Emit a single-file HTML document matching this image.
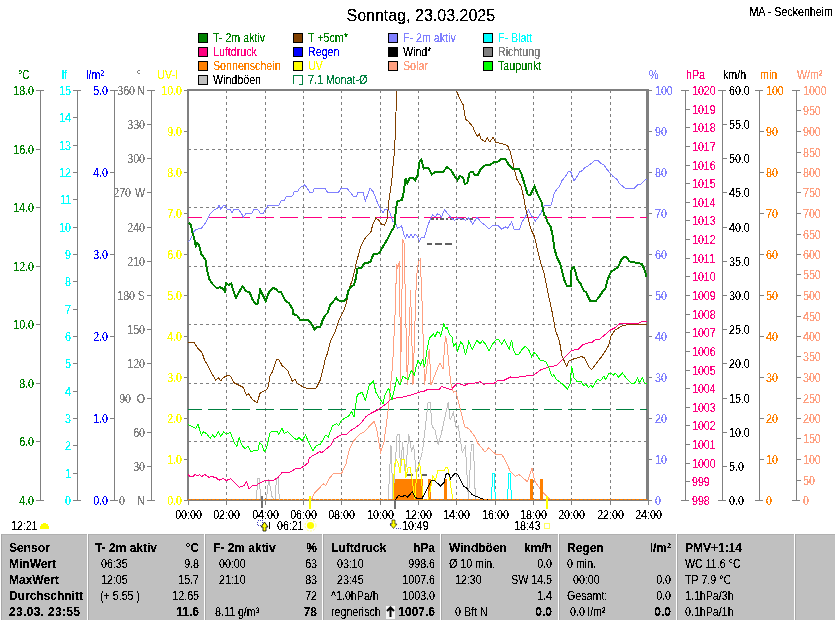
<!DOCTYPE html>
<html><head><meta charset="utf-8"><style>
html,body{margin:0;padding:0;background:#fff;width:835px;height:620px;overflow:hidden}
svg{display:block;font-family:'Liberation Sans',sans-serif}
</style></head><body>
<svg width="835" height="620" viewBox="0 0 835 620" shape-rendering="crispEdges">
<rect x="198.5" y="33.5" width="9" height="9" fill="#008000" stroke="#000" />
<rect x="293.5" y="33.5" width="9" height="9" fill="#804000" stroke="#000" />
<rect x="388.5" y="33.5" width="9" height="9" fill="#8080FF" stroke="#000" />
<rect x="483.5" y="33.5" width="9" height="9" fill="#00FFFF" stroke="#000" />
<rect x="198.5" y="47.5" width="9" height="9" fill="#FF0080" stroke="#000" />
<rect x="293.5" y="47.5" width="9" height="9" fill="#0000FF" stroke="#000" />
<rect x="388.5" y="47.5" width="9" height="9" fill="#000000" stroke="#000" />
<rect x="483.5" y="47.5" width="9" height="9" fill="#808080" stroke="#000" />
<rect x="198.5" y="61.5" width="9" height="9" fill="#FF8000" stroke="#000" />
<rect x="293.5" y="61.5" width="9" height="9" fill="#FFFF00" stroke="#000" />
<rect x="388.5" y="61.5" width="9" height="9" fill="#FFA080" stroke="#000" />
<rect x="483.5" y="61.5" width="9" height="9" fill="#00FF00" stroke="#000" />
<rect x="198.5" y="75.5" width="9" height="9" fill="#C0C0C0" stroke="#000" />
<path d="M293.5,84 V75.5 H302.5 V84.5 H299" fill="none" stroke="#008040"/>
<line x1="40.5" y1="90" x2="40.5" y2="501" stroke="#808080" stroke-width="1" />
<line x1="36" y1="90.5" x2="44" y2="90.5" stroke="#808080" stroke-width="1" />
<line x1="36" y1="149.5" x2="40.5" y2="149.5" stroke="#808080" stroke-width="1" />
<line x1="36" y1="207.5" x2="40.5" y2="207.5" stroke="#808080" stroke-width="1" />
<line x1="36" y1="266.5" x2="40.5" y2="266.5" stroke="#808080" stroke-width="1" />
<line x1="36" y1="324.5" x2="40.5" y2="324.5" stroke="#808080" stroke-width="1" />
<line x1="36" y1="383.5" x2="40.5" y2="383.5" stroke="#808080" stroke-width="1" />
<line x1="36" y1="441.5" x2="40.5" y2="441.5" stroke="#808080" stroke-width="1" />
<line x1="36" y1="500.5" x2="44" y2="500.5" stroke="#808080" stroke-width="1" />
<line x1="77.5" y1="90" x2="77.5" y2="501" stroke="#808080" stroke-width="1" />
<line x1="73" y1="90.5" x2="81" y2="90.5" stroke="#808080" stroke-width="1" />
<line x1="73" y1="117.5" x2="77.5" y2="117.5" stroke="#808080" stroke-width="1" />
<line x1="73" y1="145.5" x2="77.5" y2="145.5" stroke="#808080" stroke-width="1" />
<line x1="73" y1="172.5" x2="77.5" y2="172.5" stroke="#808080" stroke-width="1" />
<line x1="73" y1="199.5" x2="77.5" y2="199.5" stroke="#808080" stroke-width="1" />
<line x1="73" y1="227.5" x2="77.5" y2="227.5" stroke="#808080" stroke-width="1" />
<line x1="73" y1="254.5" x2="77.5" y2="254.5" stroke="#808080" stroke-width="1" />
<line x1="73" y1="281.5" x2="77.5" y2="281.5" stroke="#808080" stroke-width="1" />
<line x1="73" y1="309.5" x2="77.5" y2="309.5" stroke="#808080" stroke-width="1" />
<line x1="73" y1="336.5" x2="77.5" y2="336.5" stroke="#808080" stroke-width="1" />
<line x1="73" y1="363.5" x2="77.5" y2="363.5" stroke="#808080" stroke-width="1" />
<line x1="73" y1="391.5" x2="77.5" y2="391.5" stroke="#808080" stroke-width="1" />
<line x1="73" y1="418.5" x2="77.5" y2="418.5" stroke="#808080" stroke-width="1" />
<line x1="73" y1="445.5" x2="77.5" y2="445.5" stroke="#808080" stroke-width="1" />
<line x1="73" y1="473.5" x2="77.5" y2="473.5" stroke="#808080" stroke-width="1" />
<line x1="73" y1="500.5" x2="81" y2="500.5" stroke="#808080" stroke-width="1" />
<line x1="114.5" y1="90" x2="114.5" y2="501" stroke="#808080" stroke-width="1" />
<line x1="110" y1="90.5" x2="118" y2="90.5" stroke="#808080" stroke-width="1" />
<line x1="110" y1="172.5" x2="114.5" y2="172.5" stroke="#808080" stroke-width="1" />
<line x1="110" y1="254.5" x2="114.5" y2="254.5" stroke="#808080" stroke-width="1" />
<line x1="110" y1="336.5" x2="114.5" y2="336.5" stroke="#808080" stroke-width="1" />
<line x1="110" y1="418.5" x2="114.5" y2="418.5" stroke="#808080" stroke-width="1" />
<line x1="110" y1="500.5" x2="118" y2="500.5" stroke="#808080" stroke-width="1" />
<line x1="151.5" y1="90" x2="151.5" y2="501" stroke="#808080" stroke-width="1" />
<line x1="147" y1="90.5" x2="155" y2="90.5" stroke="#808080" stroke-width="1" />
<line x1="147" y1="124.5" x2="151.5" y2="124.5" stroke="#808080" stroke-width="1" />
<line x1="147" y1="158.5" x2="151.5" y2="158.5" stroke="#808080" stroke-width="1" />
<line x1="147" y1="192.5" x2="151.5" y2="192.5" stroke="#808080" stroke-width="1" />
<line x1="147" y1="227.5" x2="151.5" y2="227.5" stroke="#808080" stroke-width="1" />
<line x1="147" y1="261.5" x2="151.5" y2="261.5" stroke="#808080" stroke-width="1" />
<line x1="147" y1="295.5" x2="151.5" y2="295.5" stroke="#808080" stroke-width="1" />
<line x1="147" y1="329.5" x2="151.5" y2="329.5" stroke="#808080" stroke-width="1" />
<line x1="147" y1="363.5" x2="151.5" y2="363.5" stroke="#808080" stroke-width="1" />
<line x1="147" y1="398.5" x2="151.5" y2="398.5" stroke="#808080" stroke-width="1" />
<line x1="147" y1="432.5" x2="151.5" y2="432.5" stroke="#808080" stroke-width="1" />
<line x1="147" y1="466.5" x2="151.5" y2="466.5" stroke="#808080" stroke-width="1" />
<line x1="147" y1="500.5" x2="155" y2="500.5" stroke="#808080" stroke-width="1" />
<line x1="184" y1="90.5" x2="188" y2="90.5" stroke="#808080" stroke-width="1" />
<line x1="184" y1="131.5" x2="188" y2="131.5" stroke="#808080" stroke-width="1" />
<line x1="184" y1="172.5" x2="188" y2="172.5" stroke="#808080" stroke-width="1" />
<line x1="184" y1="213.5" x2="188" y2="213.5" stroke="#808080" stroke-width="1" />
<line x1="184" y1="254.5" x2="188" y2="254.5" stroke="#808080" stroke-width="1" />
<line x1="184" y1="295.5" x2="188" y2="295.5" stroke="#808080" stroke-width="1" />
<line x1="184" y1="336.5" x2="188" y2="336.5" stroke="#808080" stroke-width="1" />
<line x1="184" y1="377.5" x2="188" y2="377.5" stroke="#808080" stroke-width="1" />
<line x1="184" y1="418.5" x2="188" y2="418.5" stroke="#808080" stroke-width="1" />
<line x1="184" y1="459.5" x2="188" y2="459.5" stroke="#808080" stroke-width="1" />
<line x1="184" y1="500.5" x2="188" y2="500.5" stroke="#808080" stroke-width="1" />
<line x1="648" y1="90.5" x2="652" y2="90.5" stroke="#808080" stroke-width="1" />
<line x1="648" y1="131.5" x2="652" y2="131.5" stroke="#808080" stroke-width="1" />
<line x1="648" y1="172.5" x2="652" y2="172.5" stroke="#808080" stroke-width="1" />
<line x1="648" y1="213.5" x2="652" y2="213.5" stroke="#808080" stroke-width="1" />
<line x1="648" y1="254.5" x2="652" y2="254.5" stroke="#808080" stroke-width="1" />
<line x1="648" y1="295.5" x2="652" y2="295.5" stroke="#808080" stroke-width="1" />
<line x1="648" y1="336.5" x2="652" y2="336.5" stroke="#808080" stroke-width="1" />
<line x1="648" y1="377.5" x2="652" y2="377.5" stroke="#808080" stroke-width="1" />
<line x1="648" y1="418.5" x2="652" y2="418.5" stroke="#808080" stroke-width="1" />
<line x1="648" y1="459.5" x2="652" y2="459.5" stroke="#808080" stroke-width="1" />
<line x1="648" y1="500.5" x2="652" y2="500.5" stroke="#808080" stroke-width="1" />
<line x1="685.5" y1="90" x2="685.5" y2="501" stroke="#808080" stroke-width="1" />
<line x1="681" y1="90.5" x2="689" y2="90.5" stroke="#808080" stroke-width="1" />
<line x1="685.5" y1="109.5" x2="690" y2="109.5" stroke="#808080" stroke-width="1" />
<line x1="685.5" y1="127.5" x2="690" y2="127.5" stroke="#808080" stroke-width="1" />
<line x1="685.5" y1="146.5" x2="690" y2="146.5" stroke="#808080" stroke-width="1" />
<line x1="685.5" y1="165.5" x2="690" y2="165.5" stroke="#808080" stroke-width="1" />
<line x1="685.5" y1="183.5" x2="690" y2="183.5" stroke="#808080" stroke-width="1" />
<line x1="685.5" y1="202.5" x2="690" y2="202.5" stroke="#808080" stroke-width="1" />
<line x1="685.5" y1="220.5" x2="690" y2="220.5" stroke="#808080" stroke-width="1" />
<line x1="685.5" y1="239.5" x2="690" y2="239.5" stroke="#808080" stroke-width="1" />
<line x1="685.5" y1="258.5" x2="690" y2="258.5" stroke="#808080" stroke-width="1" />
<line x1="685.5" y1="276.5" x2="690" y2="276.5" stroke="#808080" stroke-width="1" />
<line x1="685.5" y1="295.5" x2="690" y2="295.5" stroke="#808080" stroke-width="1" />
<line x1="685.5" y1="314.5" x2="690" y2="314.5" stroke="#808080" stroke-width="1" />
<line x1="685.5" y1="332.5" x2="690" y2="332.5" stroke="#808080" stroke-width="1" />
<line x1="685.5" y1="351.5" x2="690" y2="351.5" stroke="#808080" stroke-width="1" />
<line x1="685.5" y1="370.5" x2="690" y2="370.5" stroke="#808080" stroke-width="1" />
<line x1="685.5" y1="388.5" x2="690" y2="388.5" stroke="#808080" stroke-width="1" />
<line x1="685.5" y1="407.5" x2="690" y2="407.5" stroke="#808080" stroke-width="1" />
<line x1="685.5" y1="425.5" x2="690" y2="425.5" stroke="#808080" stroke-width="1" />
<line x1="685.5" y1="444.5" x2="690" y2="444.5" stroke="#808080" stroke-width="1" />
<line x1="685.5" y1="463.5" x2="690" y2="463.5" stroke="#808080" stroke-width="1" />
<line x1="685.5" y1="481.5" x2="690" y2="481.5" stroke="#808080" stroke-width="1" />
<line x1="681" y1="500.5" x2="689" y2="500.5" stroke="#808080" stroke-width="1" />
<line x1="722.5" y1="90" x2="722.5" y2="501" stroke="#808080" stroke-width="1" />
<line x1="718" y1="90.5" x2="726" y2="90.5" stroke="#808080" stroke-width="1" />
<line x1="722.5" y1="124.5" x2="727" y2="124.5" stroke="#808080" stroke-width="1" />
<line x1="722.5" y1="158.5" x2="727" y2="158.5" stroke="#808080" stroke-width="1" />
<line x1="722.5" y1="192.5" x2="727" y2="192.5" stroke="#808080" stroke-width="1" />
<line x1="722.5" y1="227.5" x2="727" y2="227.5" stroke="#808080" stroke-width="1" />
<line x1="722.5" y1="261.5" x2="727" y2="261.5" stroke="#808080" stroke-width="1" />
<line x1="722.5" y1="295.5" x2="727" y2="295.5" stroke="#808080" stroke-width="1" />
<line x1="722.5" y1="329.5" x2="727" y2="329.5" stroke="#808080" stroke-width="1" />
<line x1="722.5" y1="363.5" x2="727" y2="363.5" stroke="#808080" stroke-width="1" />
<line x1="722.5" y1="398.5" x2="727" y2="398.5" stroke="#808080" stroke-width="1" />
<line x1="722.5" y1="432.5" x2="727" y2="432.5" stroke="#808080" stroke-width="1" />
<line x1="722.5" y1="466.5" x2="727" y2="466.5" stroke="#808080" stroke-width="1" />
<line x1="718" y1="500.5" x2="726" y2="500.5" stroke="#808080" stroke-width="1" />
<line x1="759.5" y1="90" x2="759.5" y2="501" stroke="#808080" stroke-width="1" />
<line x1="755" y1="90.5" x2="763" y2="90.5" stroke="#808080" stroke-width="1" />
<line x1="759.5" y1="131.5" x2="764" y2="131.5" stroke="#808080" stroke-width="1" />
<line x1="759.5" y1="172.5" x2="764" y2="172.5" stroke="#808080" stroke-width="1" />
<line x1="759.5" y1="213.5" x2="764" y2="213.5" stroke="#808080" stroke-width="1" />
<line x1="759.5" y1="254.5" x2="764" y2="254.5" stroke="#808080" stroke-width="1" />
<line x1="759.5" y1="295.5" x2="764" y2="295.5" stroke="#808080" stroke-width="1" />
<line x1="759.5" y1="336.5" x2="764" y2="336.5" stroke="#808080" stroke-width="1" />
<line x1="759.5" y1="377.5" x2="764" y2="377.5" stroke="#808080" stroke-width="1" />
<line x1="759.5" y1="418.5" x2="764" y2="418.5" stroke="#808080" stroke-width="1" />
<line x1="759.5" y1="459.5" x2="764" y2="459.5" stroke="#808080" stroke-width="1" />
<line x1="755" y1="500.5" x2="763" y2="500.5" stroke="#808080" stroke-width="1" />
<line x1="796.5" y1="90" x2="796.5" y2="501" stroke="#808080" stroke-width="1" />
<line x1="792" y1="90.5" x2="800" y2="90.5" stroke="#808080" stroke-width="1" />
<line x1="796.5" y1="110.5" x2="801" y2="110.5" stroke="#808080" stroke-width="1" />
<line x1="796.5" y1="131.5" x2="801" y2="131.5" stroke="#808080" stroke-width="1" />
<line x1="796.5" y1="152.5" x2="801" y2="152.5" stroke="#808080" stroke-width="1" />
<line x1="796.5" y1="172.5" x2="801" y2="172.5" stroke="#808080" stroke-width="1" />
<line x1="796.5" y1="192.5" x2="801" y2="192.5" stroke="#808080" stroke-width="1" />
<line x1="796.5" y1="213.5" x2="801" y2="213.5" stroke="#808080" stroke-width="1" />
<line x1="796.5" y1="234.5" x2="801" y2="234.5" stroke="#808080" stroke-width="1" />
<line x1="796.5" y1="254.5" x2="801" y2="254.5" stroke="#808080" stroke-width="1" />
<line x1="796.5" y1="274.5" x2="801" y2="274.5" stroke="#808080" stroke-width="1" />
<line x1="796.5" y1="295.5" x2="801" y2="295.5" stroke="#808080" stroke-width="1" />
<line x1="796.5" y1="316.5" x2="801" y2="316.5" stroke="#808080" stroke-width="1" />
<line x1="796.5" y1="336.5" x2="801" y2="336.5" stroke="#808080" stroke-width="1" />
<line x1="796.5" y1="356.5" x2="801" y2="356.5" stroke="#808080" stroke-width="1" />
<line x1="796.5" y1="377.5" x2="801" y2="377.5" stroke="#808080" stroke-width="1" />
<line x1="796.5" y1="398.5" x2="801" y2="398.5" stroke="#808080" stroke-width="1" />
<line x1="796.5" y1="418.5" x2="801" y2="418.5" stroke="#808080" stroke-width="1" />
<line x1="796.5" y1="438.5" x2="801" y2="438.5" stroke="#808080" stroke-width="1" />
<line x1="796.5" y1="459.5" x2="801" y2="459.5" stroke="#808080" stroke-width="1" />
<line x1="796.5" y1="480.5" x2="801" y2="480.5" stroke="#808080" stroke-width="1" />
<line x1="792" y1="500.5" x2="800" y2="500.5" stroke="#808080" stroke-width="1" />
<line x1="188" y1="149.5" x2="647" y2="149.5" stroke="#808080" stroke-width="1" stroke-dasharray="3 3"/>
<line x1="188" y1="207.5" x2="647" y2="207.5" stroke="#808080" stroke-width="1" stroke-dasharray="3 3"/>
<line x1="188" y1="266.5" x2="647" y2="266.5" stroke="#808080" stroke-width="1" stroke-dasharray="3 3"/>
<line x1="188" y1="324.5" x2="647" y2="324.5" stroke="#808080" stroke-width="1" stroke-dasharray="3 3"/>
<line x1="188" y1="383.5" x2="647" y2="383.5" stroke="#808080" stroke-width="1" stroke-dasharray="3 3"/>
<line x1="188" y1="441.5" x2="647" y2="441.5" stroke="#808080" stroke-width="1" stroke-dasharray="3 3"/>
<line x1="226.5" y1="90" x2="226.5" y2="499" stroke="#808080" stroke-width="1" stroke-dasharray="3 3"/>
<line x1="265.5" y1="90" x2="265.5" y2="499" stroke="#808080" stroke-width="1" stroke-dasharray="3 3"/>
<line x1="303.5" y1="90" x2="303.5" y2="499" stroke="#808080" stroke-width="1" stroke-dasharray="3 3"/>
<line x1="341.5" y1="90" x2="341.5" y2="499" stroke="#808080" stroke-width="1" stroke-dasharray="3 3"/>
<line x1="380.5" y1="90" x2="380.5" y2="499" stroke="#808080" stroke-width="1" stroke-dasharray="3 3"/>
<line x1="418.5" y1="90" x2="418.5" y2="499" stroke="#808080" stroke-width="1" stroke-dasharray="3 3"/>
<line x1="456.5" y1="90" x2="456.5" y2="499" stroke="#808080" stroke-width="1" stroke-dasharray="3 3"/>
<line x1="495.5" y1="90" x2="495.5" y2="499" stroke="#808080" stroke-width="1" stroke-dasharray="3 3"/>
<line x1="533.5" y1="90" x2="533.5" y2="499" stroke="#808080" stroke-width="1" stroke-dasharray="3 3"/>
<line x1="571.5" y1="90" x2="571.5" y2="499" stroke="#808080" stroke-width="1" stroke-dasharray="3 3"/>
<line x1="610.5" y1="90" x2="610.5" y2="499" stroke="#808080" stroke-width="1" stroke-dasharray="3 3"/>
<line x1="188.5" y1="500" x2="188.5" y2="505" stroke="#808080" stroke-width="1" />
<line x1="226.5" y1="500" x2="226.5" y2="505" stroke="#808080" stroke-width="1" />
<line x1="265.5" y1="500" x2="265.5" y2="505" stroke="#808080" stroke-width="1" />
<line x1="303.5" y1="500" x2="303.5" y2="505" stroke="#808080" stroke-width="1" />
<line x1="341.5" y1="500" x2="341.5" y2="505" stroke="#808080" stroke-width="1" />
<line x1="380.5" y1="500" x2="380.5" y2="505" stroke="#808080" stroke-width="1" />
<line x1="418.5" y1="500" x2="418.5" y2="505" stroke="#808080" stroke-width="1" />
<line x1="456.5" y1="500" x2="456.5" y2="505" stroke="#808080" stroke-width="1" />
<line x1="495.5" y1="500" x2="495.5" y2="505" stroke="#808080" stroke-width="1" />
<line x1="533.5" y1="500" x2="533.5" y2="505" stroke="#808080" stroke-width="1" />
<line x1="571.5" y1="500" x2="571.5" y2="505" stroke="#808080" stroke-width="1" />
<line x1="610.5" y1="500" x2="610.5" y2="505" stroke="#808080" stroke-width="1" />
<line x1="648.5" y1="500" x2="648.5" y2="505" stroke="#808080" stroke-width="1" />
<rect x="188" y="90" width="460" height="410" fill="none" stroke="#808080" stroke-width="2"/>
<rect x="646" y="90" width="1" height="410" fill="#808080" stroke="none" />
<defs><clipPath id="pc"><rect x="188" y="91" width="459" height="409"/></clipPath></defs>
<g clip-path="url(#pc)">
<line x1="188" y1="217.5" x2="647" y2="217.5" stroke="#FF0080" stroke-dasharray="18 6" stroke-dashoffset="4"/>
<line x1="188" y1="409.5" x2="647" y2="409.5" stroke="#008040" stroke-dasharray="18 6" stroke-dashoffset="4"/>
<polyline points="311.5,499.5 314.4,493.2 319.4,488.1 323.0,483.8 325.9,485.3 329.5,478.1 333.8,473.1 341.7,473.1 346.0,463.7 349.6,448.6 353.2,441.4 359.7,434.2 364.5,431.7 371.0,424.5 374.2,421.3 376.6,428.5 380.6,451.9 383.9,443.0 387.9,412.4 392.7,364.0 395.7,300.0 396.4,263.7 397.7,267.6 399.6,261.1 400.5,385.0 402.8,239.2 404.1,243.0 407.3,385.0 410.6,290.2 413.0,385.0 416.4,277.9 418.3,262.4 420.3,259.2 422.2,305.0 424.5,385.0 429.3,349.4 431.0,385.0 437.4,368.8 439.8,363.1 443.0,368.8 445.5,335.7 447.1,344.6 449.5,372.0 451.1,385.0 453.5,392.2 455.9,391.4 460.8,410.8 464.8,426.9 468.8,428.5 475.3,437.4 477.7,443.0 485.0,451.9 488.7,447.9 495.9,454.4 501.7,454.4 506.0,461.6 510.3,471.6 515.3,476.6 518.9,474.5 523.2,478.1 527.5,481.7 531.9,468.0 534.6,481.0 541.2,490.4 549.9,499.5" fill="none" stroke="#FFA080" stroke-width="1" stroke-linejoin="miter" />
<rect x="393" y="479" width="30" height="21" fill="#FF8000"/>
<rect x="428.4" y="479" width="2.6000000000000227" height="21" fill="#FF8000"/>
<rect x="444.2" y="479" width="2.8000000000000114" height="21" fill="#FF8000"/>
<rect x="530.2" y="479" width="3.0" height="21" fill="#FF8000"/>
<rect x="540" y="479" width="2.7999999999999545" height="21" fill="#FF8000"/>
<polyline points="256.4,499.5 257.8,478.0 259.5,478.0 260.5,499.5 266.5,499.5 268.6,478.8 272.2,497.5 275.0,499.5 276.5,478.0 278.0,478.0 279.4,499.5 388.2,499.5 391.0,445.3 393.0,499.5 397.1,434.4 399.2,434.4 400.5,472.0 402.6,441.9 405.3,474.8 408.8,434.4 411.5,451.5 413.6,444.7 416.3,474.8 419.7,461.1 422.5,451.5 425.2,428.2 428.1,402.2 430.1,402.2 432.1,426.4 435.1,430.4 438.1,444.5 441.2,434.4 444.2,420.3 448.2,402.2 450.2,420.3 453.3,412.3 456.3,428.4 458.3,426.4 462.3,452.6 465.4,446.5 468.4,499.0 471.4,444.5 473.4,444.5 475.4,499.0" fill="none" stroke="#C0C0C0" stroke-width="1" stroke-linejoin="miter" />
<line x1="430" y1="219" x2="473" y2="219" stroke="#606060" stroke-width="2" stroke-dasharray="4 2 2 2"/>
<line x1="427" y1="244" x2="453" y2="244" stroke="#606060" stroke-width="2" stroke-dasharray="5 3 2 0"/>
<line x1="407" y1="475" x2="413" y2="475" stroke="#606060" stroke-width="2"/>
<line x1="422" y1="475" x2="427" y2="475" stroke="#606060" stroke-width="2"/>
<polyline points="393.0,499.5 394.4,465.2 396.4,459.7 398.5,463.8 399.9,473.4 401.9,459.7 404.7,459.7 406.0,477.5 408.1,467.3 410.1,467.3 412.2,480.3 414.9,499.5 417.0,469.3 419.7,463.8 421.8,480.3 422.5,499.5 428.6,499.5 432.7,476.2 435.6,480.2 437.7,470.9 444.2,470.9 445.6,467.3 447.8,467.3 452.8,498.9" fill="none" stroke="#FFFF00" stroke-width="1" stroke-linejoin="miter" />
<polyline points="393.0,499.5 395.8,499.5 398.5,495.3 401.9,496.7 405.3,495.3 407.4,497.4 412.2,491.9 414.9,496.7 417.7,498.8 421.8,498.8 425.2,492.6 428.6,485.8 431.4,480.3 434.1,480.3 440.6,486.0 444.2,482.4 445.6,474.5 448.5,473.1 450.6,478.8 455.0,473.1 457.8,474.5 463.6,486.0 466.5,488.1 472.2,494.6 477.2,496.8 482.3,498.9 488.0,499.6" fill="none" stroke="#000000" stroke-width="1" stroke-linejoin="miter" />
<polyline points="491.4,499.5 492.7,473.0 494.1,473.0 495.4,499.5" fill="none" stroke="#00FFFF" stroke-width="1" stroke-linejoin="miter" />
<polyline points="507.5,499.5 508.8,473.0 510.2,473.0 511.5,499.5" fill="none" stroke="#00FFFF" stroke-width="1" stroke-linejoin="miter" />
<polyline points="188.2,474.5 190.3,476.6 193.2,476.2 195.3,474.5 197.5,475.6 199.7,474.5 201.8,476.6 204.7,474.5 209.0,477.4 211.9,476.6 216.2,477.7 219.0,480.2 223.4,478.5 226.2,480.5 230.6,478.8 233.4,481.4 236.3,484.6 239.2,487.1 242.0,486.7 244.2,485.3 246.4,481.7 249.2,488.9 252.1,486.0 256.4,485.3 260.7,482.4 264.3,481.0 267.9,480.2 270.8,481.0 273.7,480.2 278.0,477.4 282.3,472.3 289.5,472.3 293.1,470.2 295.2,468.7 301.0,468.0 304.3,465.9 307.9,463.0 309.3,458.0 313.7,455.1 319.4,451.9 322.3,452.2 325.9,449.3 330.9,445.0 333.9,439.0 341.1,435.0 346.8,434.2 350.0,430.9 356.5,426.9 360.5,423.7 366.1,416.4 372.6,412.4 379.0,409.2 385.5,404.3 390.3,399.5 396.8,397.9 403.2,397.0 412.9,394.6 418.8,392.2 423.7,391.4 428.5,389.0 435.0,389.0 439.0,389.8 441.4,386.6 446.3,388.2 451.1,389.8 456.7,383.4 461.6,384.2 464.0,385.8 468.8,383.4 475.3,383.0 480.1,381.7 483.4,384.2 494.6,383.0 497.9,380.1 502.7,380.9 507.5,378.5 510.8,376.9 514.0,377.7 525.3,376.1 528.5,375.3 533.6,375.3 540.9,369.6 545.8,368.0 551.4,366.4 556.2,365.6 562.7,359.1 567.5,354.3 571.6,350.3 578.0,349.5 582.9,344.6 587.7,343.0 592.5,342.2 595.8,339.0 599.0,339.8 603.8,335.7 610.3,330.1 615.1,327.7 620.0,323.6 637.7,323.6 642.6,321.2 646.5,321.2" fill="none" stroke="#FF0080" stroke-width="1" stroke-linejoin="miter" />
<polyline points="188.4,242.0 190.8,238.9 193.3,232.4 196.5,229.2 201.3,228.4 203.7,225.2 206.2,221.9 208.6,217.0 210.2,213.9 214.2,209.8 217.5,208.2 219.0,205.5 220.7,209.0 223.9,205.0 225.5,205.5 227.0,209.0 230.4,209.8 232.0,213.0 233.6,209.5 238.4,209.5 240.8,212.3 243.3,217.0 245.7,213.9 252.0,213.0 253.7,209.5 257.8,209.5 260.2,213.0 263.4,213.0 267.5,205.8 278.7,205.5 281.2,201.0 284.4,200.2 286.0,197.0 292.5,196.0 294.0,192.0 298.0,191.3 299.7,188.0 304.8,184.8 306.5,187.3 309.7,192.1 312.9,192.1 314.5,188.1 325.0,188.1 327.4,192.1 338.7,192.1 341.1,188.1 346.8,188.1 350.0,192.1 354.0,196.9 356.5,196.9 358.1,192.1 362.9,192.1 365.3,201.0 370.2,188.1 373.4,192.1 377.4,202.6 380.6,209.0 383.1,213.1 384.7,209.8 387.9,209.0 390.3,213.9 392.7,221.1 395.2,221.9 397.6,228.4 401.6,226.0 404.0,234.8 405.5,238.0 407.0,234.0 409.0,238.0 411.0,234.0 413.0,238.0 415.0,234.0 417.2,236.0 419.6,241.3 421.3,237.3 424.5,237.3 426.9,228.4 430.1,219.5 432.5,214.7 435.0,217.1 437.4,213.9 439.8,214.7 441.4,217.1 444.6,209.8 447.9,213.9 451.1,217.9 454.3,220.3 457.5,217.9 460.8,218.7 465.6,220.3 468.8,217.9 472.9,224.4 476.9,217.1 481.7,222.7 485.0,225.2 489.0,229.2 493.0,225.2 497.9,225.2 501.9,229.2 505.1,226.8 507.5,228.4 511.6,221.9 514.0,229.2 519.6,229.2 522.1,221.9 525.3,217.1 528.5,209.8 531.2,215.5 535.3,221.1 537.7,217.9 540.9,213.1 544.1,205.8 551.4,205.0 553.8,194.5 557.0,188.9 559.5,186.5 561.9,180.8 565.1,176.8 568.3,171.9 570.8,171.9 574.0,180.8 576.4,177.6 579.6,171.9 582.9,170.3 584.5,167.9 588.5,165.5 590.9,163.8 594.2,160.6 598.2,160.6 601.4,163.8 603.8,164.7 607.1,169.5 610.3,173.5 613.5,176.8 616.8,179.2 619.2,183.2 624.8,188.1 634.5,188.1 637.7,184.8 641.0,184.0 645.0,180.0 647.0,179.0" fill="none" stroke="#8080FF" stroke-width="1" stroke-linejoin="miter" />
<polyline points="188.4,424.5 190.8,426.1 195.7,428.5 198.1,424.5 201.3,435.0 203.7,431.7 207.0,434.2 210.2,438.2 212.6,435.0 215.0,437.4 218.3,431.7 220.7,436.6 223.9,431.7 226.3,434.2 230.4,432.5 234.4,443.0 236.8,446.3 239.2,437.4 241.6,444.6 244.9,448.7 248.1,446.3 251.3,451.9 254.5,450.3 257.8,451.0 259.4,443.0 261.8,444.6 264.2,451.9 266.6,447.9 269.9,433.4 272.3,431.0 277.1,431.0 278.7,434.2 282.0,428.5 284.4,433.4 287.6,431.7 292.5,436.6 296.5,439.8 298.9,437.4 302.1,440.6 305.6,435.0 308.9,443.0 312.9,451.1 316.1,445.5 320.2,444.6 325.8,435.0 328.2,437.4 332.3,426.1 336.3,423.7 338.7,425.3 341.1,420.5 345.2,418.0 348.4,416.4 351.6,411.6 354.0,417.2 357.3,394.6 362.1,392.2 365.3,400.3 369.4,385.0 373.4,380.9 375.8,392.2 379.0,397.9 383.1,403.5 384.7,395.5 388.7,388.2 391.9,400.3 396.8,378.5 400.0,385.0 403.2,376.1 408.1,380.1 411.3,370.5 414.5,375.3 415.6,368.8 418.0,359.9 420.5,364.7 422.9,359.1 424.5,367.2 426.9,351.0 429.3,338.1 433.4,334.1 435.0,336.5 437.4,331.7 439.8,332.5 440.6,336.5 443.8,323.6 445.5,328.5 447.1,327.6 449.5,334.9 451.9,336.5 453.5,346.2 455.9,343.8 457.5,351.0 460.8,341.4 463.2,345.4 465.6,355.1 468.8,341.4 472.1,349.4 476.9,340.5 480.1,343.8 482.5,340.5 485.8,344.6 489.0,351.0 492.2,344.6 496.3,339.7 498.7,339.7 501.9,344.6 504.3,339.7 506.7,344.6 509.2,349.4 511.6,339.7 513.2,349.4 515.6,354.3 518.8,354.3 522.1,349.4 525.3,346.2 528.5,349.4 531.7,356.7 534.0,352.6 536.1,354.3 540.1,360.0 545.8,361.6 549.0,368.0 552.2,376.9 553.8,374.5 556.2,379.3 561.9,383.4 567.5,389.0 570.0,384.2 571.6,366.4 574.0,377.7 577.2,381.7 581.3,381.7 583.7,385.8 586.1,384.2 588.5,387.4 590.9,385.0 592.5,387.4 597.4,379.3 600.6,380.9 603.8,376.1 605.5,379.3 608.7,373.7 611.1,372.9 613.5,375.3 615.1,372.9 618.4,376.9 622.4,372.9 627.2,379.3 631.3,383.4 634.5,383.4 637.7,377.7 639.3,382.6 642.6,377.7 644.2,382.6 646.6,383.4" fill="none" stroke="#00FF00" stroke-width="1" stroke-linejoin="miter" />
<polyline points="188.4,342.2 194.0,342.2 198.0,348.6 202.0,352.6 204.5,359.9 207.0,364.0 211.8,373.7 215.8,380.1 218.3,377.7 220.7,380.9 223.1,377.7 228.0,375.3 230.4,376.1 233.6,382.5 238.4,385.0 243.3,387.4 246.5,395.5 248.9,393.8 252.1,399.5 257.0,402.7 260.2,393.0 262.6,391.4 265.8,390.6 268.3,386.6 269.9,376.1 272.3,372.0 276.3,359.9 278.7,359.1 282.0,365.5 287.6,370.4 292.5,381.7 294.9,379.3 297.3,383.4 303.7,387.4 306.5,388.2 316.1,388.2 320.2,380.1 324.2,364.0 325.0,359.9 327.4,353.5 330.6,340.5 335.5,330.9 338.7,320.4 341.1,315.5 344.4,309.1 346.8,301.0 349.2,288.1 352.4,280.1 356.5,262.3 360.5,246.9 365.3,238.0 371.0,231.6 372.6,225.2 375.8,217.9 379.0,220.3 381.5,224.4 384.7,225.2 387.1,218.7 388.4,205.8 389.5,196.1 391.9,180.0 392.7,168.6 394.4,152.5 395.2,136.4 396.0,112.2 396.8,89.6 397.2,60.0 456.0,60.0 456.3,90.0 459.2,97.7 463.2,104.9 465.6,119.5 468.0,121.1 472.9,126.7 474.5,131.5 477.7,136.4 479.3,134.0 480.9,138.8 485.0,142.0 487.4,138.0 489.8,142.0 493.0,137.2 495.5,142.0 501.1,143.6 507.5,145.3 510.0,150.9 513.2,163.8 515.6,175.1 517.2,180.0 521.3,186.5 523.7,197.7 525.3,206.6 528.5,220.3 531.2,230.0 534.5,236.5 537.7,251.0 540.9,263.9 544.1,273.6 545.8,281.7 549.0,297.8 552.2,312.3 555.4,330.1 559.5,341.4 561.9,355.9 566.7,366.4 569.1,360.8 573.2,359.1 581.3,356.7 584.5,357.5 588.5,366.4 591.7,369.6 595.8,364.0 602.2,355.9 608.7,345.4 611.1,335.7 615.1,330.1 621.6,326.1 628.9,324.4 646.6,324.4" fill="none" stroke="#804000" stroke-width="1" stroke-linejoin="miter" />
<polyline points="188.4,222.7 190.8,225.0 192.5,233.0 194.0,237.0 195.7,246.0 197.3,243.0 198.9,244.5 201.3,254.0 203.7,257.4 205.4,259.0 207.0,270.3 209.4,279.3 212.6,284.1 216.6,288.1 219.9,287.3 222.3,288.1 224.7,291.4 226.0,283.3 228.7,284.9 231.2,283.3 233.6,291.4 236.0,297.8 238.4,293.0 242.5,286.5 246.5,291.4 249.7,292.2 252.1,298.6 255.4,304.0 257.8,303.5 260.2,289.7 262.6,294.6 265.8,301.0 269.0,292.2 273.1,288.1 276.3,289.0 277.9,291.4 281.2,292.2 285.2,300.2 289.2,303.5 292.5,309.1 293.3,314.0 297.3,315.5 300.5,320.4 302.4,320.4 308.9,320.4 311.3,323.6 314.5,329.3 316.9,326.8 320.2,326.8 322.6,320.4 325.0,315.5 327.4,313.1 329.0,308.3 330.6,304.3 333.9,300.7 336.3,297.8 337.9,300.2 340.3,301.0 344.4,301.0 346.8,297.8 348.4,290.5 351.6,286.5 354.0,284.9 355.6,279.3 357.3,268.7 361.3,267.9 364.5,263.0 370.2,262.3 373.4,254.2 379.0,253.4 382.3,247.7 387.1,239.7 391.1,231.6 394.4,226.8 396.0,209.0 397.6,201.0 401.6,200.2 403.2,195.3 404.0,189.7 405.6,178.3 407.3,183.2 409.7,178.3 412.9,177.5 415.3,180.0 417.7,175.1 419.6,161.4 421.3,159.8 423.7,168.6 428.5,167.8 431.7,174.3 435.8,171.9 443.0,171.9 447.1,167.0 451.1,170.3 454.3,175.9 457.5,179.9 460.0,175.9 463.2,177.5 464.8,184.0 467.2,183.2 469.6,172.7 472.9,171.9 474.5,175.1 477.7,175.1 480.1,170.3 483.4,166.2 487.4,164.6 490.6,164.6 493.8,162.2 497.0,162.2 501.1,159.0 505.1,159.0 509.2,165.4 512.4,168.6 518.8,168.6 521.3,173.5 525.3,186.4 527.7,194.5 530.1,195.3 534.5,186.5 537.7,194.5 541.7,202.6 544.1,214.7 545.8,216.3 547.4,222.0 550.6,226.8 552.2,233.3 554.6,249.4 557.0,257.5 560.3,263.9 564.3,280.0 566.7,285.7 570.8,285.7 571.6,268.0 574.0,267.1 575.6,272.0 577.2,279.3 580.4,283.3 583.7,290.6 586.1,292.2 590.1,301.0 595.8,301.0 599.0,297.0 602.2,292.2 605.5,288.1 607.9,278.5 611.1,272.0 615.1,268.8 617.6,268.0 621.6,259.1 624.0,256.6 626.4,257.5 629.7,261.5 637.7,263.1 641.8,263.9 643.4,267.1 645.8,273.6 646.6,276.8" fill="none" stroke="#008000" stroke-width="2" stroke-linejoin="miter" />
<line x1="188" y1="499.5" x2="476" y2="499.5" stroke="#FF8000" stroke-dasharray="3 1"/>
<line x1="476" y1="499.5" x2="647" y2="499.5" stroke="#FF8000" stroke-width="2" stroke-dasharray="3 1"/>
</g>
<rect x="1" y="534" width="86" height="86" fill="#C0C0C0" stroke="none" />
<rect x="1" y="534" width="86" height="1" fill="#B0B0B0" stroke="none" />
<rect x="1" y="534" width="1" height="86" fill="#A8A8A8" stroke="none" />
<rect x="88" y="534" width="116" height="86" fill="#C0C0C0" stroke="none" />
<rect x="88" y="534" width="116" height="1" fill="#B0B0B0" stroke="none" />
<rect x="88" y="534" width="1" height="86" fill="#A8A8A8" stroke="none" />
<rect x="205" y="534" width="117" height="86" fill="#C0C0C0" stroke="none" />
<rect x="205" y="534" width="117" height="1" fill="#B0B0B0" stroke="none" />
<rect x="205" y="534" width="1" height="86" fill="#A8A8A8" stroke="none" />
<rect x="323" y="534" width="117" height="86" fill="#C0C0C0" stroke="none" />
<rect x="323" y="534" width="117" height="1" fill="#B0B0B0" stroke="none" />
<rect x="323" y="534" width="1" height="86" fill="#A8A8A8" stroke="none" />
<rect x="441" y="534" width="117" height="86" fill="#C0C0C0" stroke="none" />
<rect x="441" y="534" width="117" height="1" fill="#B0B0B0" stroke="none" />
<rect x="441" y="534" width="1" height="86" fill="#A8A8A8" stroke="none" />
<rect x="559" y="534" width="117" height="86" fill="#C0C0C0" stroke="none" />
<rect x="559" y="534" width="117" height="1" fill="#B0B0B0" stroke="none" />
<rect x="559" y="534" width="1" height="86" fill="#A8A8A8" stroke="none" />
<rect x="677" y="534" width="117" height="86" fill="#C0C0C0" stroke="none" />
<rect x="677" y="534" width="117" height="1" fill="#B0B0B0" stroke="none" />
<rect x="677" y="534" width="1" height="86" fill="#A8A8A8" stroke="none" />
<rect x="795" y="534" width="40" height="86" fill="#C0C0C0" stroke="none" />
<rect x="795" y="534" width="40" height="1" fill="#B0B0B0" stroke="none" />
<rect x="795" y="534" width="1" height="86" fill="#A8A8A8" stroke="none" />
<rect x="40" y="526" width="9" height="3" fill="#FFFF00"/><rect x="41" y="524" width="7" height="2" fill="#FFFF00"/><rect x="43" y="523" width="3" height="1" fill="#FFFF00"/>
<rect x="261" y="496" width="2" height="12" fill="#707070"/>
<rect x="257.5" y="520.5" width="5" height="5" fill="none" stroke="#4040C0" stroke-dasharray="1 1"/>
<path d="M264.5,522 L268,527 L266,527 L266,531 L263,531 L263,527 L261,527 Z" fill="#FFFF00" stroke="#000" stroke-width="0.8" shape-rendering="auto"/>
<rect x="269" y="522" width="1" height="7" fill="#000"/>
<rect x="309" y="496" width="2" height="13" fill="#FFFF00"/>
<g shape-rendering="auto"><circle cx="310.5" cy="525.5" r="3.6" fill="#FFFF00"/><circle cx="310.5" cy="525.5" r="5.5" fill="none" stroke="#FFFF80" stroke-width="1" stroke-dasharray="2 1.5"/></g>
<rect x="394" y="500" width="2" height="9" fill="#707070"/>
<path d="M392,520 L395,520 L395,524 L397,524 L393.5,528.5 L390,524 L392,524 Z" fill="#FFFF00" stroke="#000" stroke-width="0.6" shape-rendering="auto"/>
<path d="M390.5,522.5 V527 M396,528.5 H400.5 V530" fill="none" stroke="#4040C0" stroke-dasharray="1 1"/>
<rect x="546" y="496" width="2" height="13" fill="#FFFF00"/>
<rect x="544.5" y="523.5" width="5" height="5" fill="none" stroke="#FFFF60"/>
<rect x="386" y="606" width="9" height="13" fill="#F4F4F4"/>
<path d="M390.5,607.5 V617 M387,611 L390.5,607.5 L394,611" fill="none" stroke="#000" stroke-width="2" shape-rendering="auto"/>
<defs><filter id="al" x="0" y="0" width="835" height="620" filterUnits="userSpaceOnUse"><feComponentTransfer><feFuncA type="discrete" tableValues="0 0 1 1 1"/></feComponentTransfer></filter></defs>
<g filter="url(#al)"><text x="346.5" y="21" fill="#000" font-size="16" text-anchor="start" font-weight="normal" >Sonntag, 23.03.2025</text>
<text transform="translate(833,16) scale(0.89,1)" fill="#000" font-size="12" text-anchor="end" font-weight="normal" >MA - Seckenheim</text>
<text transform="translate(213,42) scale(0.89,1)" fill="#008000" font-size="12" text-anchor="start" font-weight="normal" >T- 2m aktiv</text>
<text transform="translate(308,42) scale(0.89,1)" fill="#008000" font-size="12" text-anchor="start" font-weight="normal" >T +5cm*</text>
<text transform="translate(403,42) scale(0.89,1)" fill="#8080FF" font-size="12" text-anchor="start" font-weight="normal" >F- 2m aktiv</text>
<text transform="translate(498,42) scale(0.89,1)" fill="#00FFFF" font-size="12" text-anchor="start" font-weight="normal" >F- Blatt</text>
<text transform="translate(213,56) scale(0.89,1)" fill="#FF0080" font-size="12" text-anchor="start" font-weight="normal" >Luftdruck</text>
<text transform="translate(308,56) scale(0.89,1)" fill="#0000FF" font-size="12" text-anchor="start" font-weight="normal" >Regen</text>
<text transform="translate(403,56) scale(0.89,1)" fill="#000000" font-size="12" text-anchor="start" font-weight="normal" >Wind*</text>
<text transform="translate(498,56) scale(0.89,1)" fill="#808080" font-size="12" text-anchor="start" font-weight="normal" >Richtung</text>
<text transform="translate(213,70) scale(0.89,1)" fill="#FF8000" font-size="12" text-anchor="start" font-weight="normal" >Sonnenschein</text>
<text transform="translate(308,70) scale(0.89,1)" fill="#FFFF00" font-size="12" text-anchor="start" font-weight="normal" >UV</text>
<text transform="translate(403,70) scale(0.89,1)" fill="#FFA080" font-size="12" text-anchor="start" font-weight="normal" >Solar</text>
<text transform="translate(498,70) scale(0.89,1)" fill="#008000" font-size="12" text-anchor="start" font-weight="normal" >Taupunkt</text>
<text transform="translate(213,84) scale(0.89,1)" fill="#000000" font-size="12" text-anchor="start" font-weight="normal" >Windböen</text>
<text transform="translate(308,84) scale(0.89,1)" fill="#008040" font-size="12" text-anchor="start" font-weight="normal" >7.1 Monat-Ø</text>
<text transform="translate(34,95) scale(0.89,1)" fill="#008000" font-size="12" text-anchor="end" font-weight="normal" >18.0</text>
<text transform="translate(34,154) scale(0.89,1)" fill="#008000" font-size="12" text-anchor="end" font-weight="normal" >16.0</text>
<text transform="translate(34,212) scale(0.89,1)" fill="#008000" font-size="12" text-anchor="end" font-weight="normal" >14.0</text>
<text transform="translate(34,271) scale(0.89,1)" fill="#008000" font-size="12" text-anchor="end" font-weight="normal" >12.0</text>
<text transform="translate(34,329) scale(0.89,1)" fill="#008000" font-size="12" text-anchor="end" font-weight="normal" >10.0</text>
<text transform="translate(34,388) scale(0.89,1)" fill="#008000" font-size="12" text-anchor="end" font-weight="normal" >8.0</text>
<text transform="translate(34,446) scale(0.89,1)" fill="#008000" font-size="12" text-anchor="end" font-weight="normal" >6.0</text>
<text transform="translate(34,505) scale(0.89,1)" fill="#008000" font-size="12" text-anchor="end" font-weight="normal" >4.0</text>
<text transform="translate(30,79) scale(0.89,1)" fill="#008000" font-size="12" text-anchor="end" font-weight="normal" >°C</text>
<text transform="translate(71,95) scale(0.89,1)" fill="#00FFFF" font-size="12" text-anchor="end" font-weight="normal" >15</text>
<text transform="translate(71,122) scale(0.89,1)" fill="#00FFFF" font-size="12" text-anchor="end" font-weight="normal" >14</text>
<text transform="translate(71,150) scale(0.89,1)" fill="#00FFFF" font-size="12" text-anchor="end" font-weight="normal" >13</text>
<text transform="translate(71,177) scale(0.89,1)" fill="#00FFFF" font-size="12" text-anchor="end" font-weight="normal" >12</text>
<text transform="translate(71,204) scale(0.89,1)" fill="#00FFFF" font-size="12" text-anchor="end" font-weight="normal" >11</text>
<text transform="translate(71,232) scale(0.89,1)" fill="#00FFFF" font-size="12" text-anchor="end" font-weight="normal" >10</text>
<text transform="translate(71,259) scale(0.89,1)" fill="#00FFFF" font-size="12" text-anchor="end" font-weight="normal" >9</text>
<text transform="translate(71,286) scale(0.89,1)" fill="#00FFFF" font-size="12" text-anchor="end" font-weight="normal" >8</text>
<text transform="translate(71,314) scale(0.89,1)" fill="#00FFFF" font-size="12" text-anchor="end" font-weight="normal" >7</text>
<text transform="translate(71,341) scale(0.89,1)" fill="#00FFFF" font-size="12" text-anchor="end" font-weight="normal" >6</text>
<text transform="translate(71,368) scale(0.89,1)" fill="#00FFFF" font-size="12" text-anchor="end" font-weight="normal" >5</text>
<text transform="translate(71,396) scale(0.89,1)" fill="#00FFFF" font-size="12" text-anchor="end" font-weight="normal" >4</text>
<text transform="translate(71,423) scale(0.89,1)" fill="#00FFFF" font-size="12" text-anchor="end" font-weight="normal" >3</text>
<text transform="translate(71,450) scale(0.89,1)" fill="#00FFFF" font-size="12" text-anchor="end" font-weight="normal" >2</text>
<text transform="translate(71,478) scale(0.89,1)" fill="#00FFFF" font-size="12" text-anchor="end" font-weight="normal" >1</text>
<text transform="translate(71,505) scale(0.89,1)" fill="#00FFFF" font-size="12" text-anchor="end" font-weight="normal" >0</text>
<text transform="translate(67,79) scale(0.89,1)" fill="#00FFFF" font-size="12" text-anchor="end" font-weight="normal" >lf</text>
<text transform="translate(108,95) scale(0.89,1)" fill="#0000FF" font-size="12" text-anchor="end" font-weight="normal" >5.0</text>
<text transform="translate(108,177) scale(0.89,1)" fill="#0000FF" font-size="12" text-anchor="end" font-weight="normal" >4.0</text>
<text transform="translate(108,259) scale(0.89,1)" fill="#0000FF" font-size="12" text-anchor="end" font-weight="normal" >3.0</text>
<text transform="translate(108,341) scale(0.89,1)" fill="#0000FF" font-size="12" text-anchor="end" font-weight="normal" >2.0</text>
<text transform="translate(108,423) scale(0.89,1)" fill="#0000FF" font-size="12" text-anchor="end" font-weight="normal" >1.0</text>
<text transform="translate(108,505) scale(0.89,1)" fill="#0000FF" font-size="12" text-anchor="end" font-weight="normal" >0.0</text>
<text transform="translate(104,79) scale(0.89,1)" fill="#0000FF" font-size="12" text-anchor="end" font-weight="normal" >l/m²</text>
<text transform="translate(145,129) scale(0.89,1)" fill="#808080" font-size="12" text-anchor="end" font-weight="normal" >330</text>
<text transform="translate(145,163) scale(0.89,1)" fill="#808080" font-size="12" text-anchor="end" font-weight="normal" >300</text>
<text transform="translate(145,232) scale(0.89,1)" fill="#808080" font-size="12" text-anchor="end" font-weight="normal" >240</text>
<text transform="translate(145,266) scale(0.89,1)" fill="#808080" font-size="12" text-anchor="end" font-weight="normal" >210</text>
<text transform="translate(145,334) scale(0.89,1)" fill="#808080" font-size="12" text-anchor="end" font-weight="normal" >150</text>
<text transform="translate(145,368) scale(0.89,1)" fill="#808080" font-size="12" text-anchor="end" font-weight="normal" >120</text>
<text transform="translate(145,437) scale(0.89,1)" fill="#808080" font-size="12" text-anchor="end" font-weight="normal" >60</text>
<text transform="translate(145,471) scale(0.89,1)" fill="#808080" font-size="12" text-anchor="end" font-weight="normal" >30</text>
<text transform="translate(141,79) scale(0.89,1)" fill="#808080" font-size="12" text-anchor="end" font-weight="normal" >°</text>
<text transform="translate(135,95) scale(0.89,1)" fill="#808080" font-size="12" text-anchor="end" font-weight="normal" >360</text>
<text transform="translate(145,95) scale(0.89,1)" fill="#808080" font-size="12" text-anchor="end" font-weight="normal" >N</text>
<text transform="translate(131,197) scale(0.89,1)" fill="#808080" font-size="12" text-anchor="end" font-weight="normal" >270</text>
<text transform="translate(145,197) scale(0.89,1)" fill="#808080" font-size="12" text-anchor="end" font-weight="normal" >W</text>
<text transform="translate(135,300) scale(0.89,1)" fill="#808080" font-size="12" text-anchor="end" font-weight="normal" >180</text>
<text transform="translate(145,300) scale(0.89,1)" fill="#808080" font-size="12" text-anchor="end" font-weight="normal" >S</text>
<text transform="translate(131,403) scale(0.89,1)" fill="#808080" font-size="12" text-anchor="end" font-weight="normal" >90</text>
<text transform="translate(145,403) scale(0.89,1)" fill="#808080" font-size="12" text-anchor="end" font-weight="normal" >O</text>
<text transform="translate(125,505) scale(0.89,1)" fill="#808080" font-size="12" text-anchor="end" font-weight="normal" >0</text>
<text transform="translate(145,505) scale(0.89,1)" fill="#808080" font-size="12" text-anchor="end" font-weight="normal" >N</text>
<text transform="translate(182,95) scale(0.89,1)" fill="#FFFF00" font-size="12" text-anchor="end" font-weight="normal" >10.0</text>
<text transform="translate(182,136) scale(0.89,1)" fill="#FFFF00" font-size="12" text-anchor="end" font-weight="normal" >9.0</text>
<text transform="translate(182,177) scale(0.89,1)" fill="#FFFF00" font-size="12" text-anchor="end" font-weight="normal" >8.0</text>
<text transform="translate(182,218) scale(0.89,1)" fill="#FFFF00" font-size="12" text-anchor="end" font-weight="normal" >7.0</text>
<text transform="translate(182,259) scale(0.89,1)" fill="#FFFF00" font-size="12" text-anchor="end" font-weight="normal" >6.0</text>
<text transform="translate(182,300) scale(0.89,1)" fill="#FFFF00" font-size="12" text-anchor="end" font-weight="normal" >5.0</text>
<text transform="translate(182,341) scale(0.89,1)" fill="#FFFF00" font-size="12" text-anchor="end" font-weight="normal" >4.0</text>
<text transform="translate(182,382) scale(0.89,1)" fill="#FFFF00" font-size="12" text-anchor="end" font-weight="normal" >3.0</text>
<text transform="translate(182,423) scale(0.89,1)" fill="#FFFF00" font-size="12" text-anchor="end" font-weight="normal" >2.0</text>
<text transform="translate(182,464) scale(0.89,1)" fill="#FFFF00" font-size="12" text-anchor="end" font-weight="normal" >1.0</text>
<text transform="translate(182,505) scale(0.89,1)" fill="#FFFF00" font-size="12" text-anchor="end" font-weight="normal" >0.0</text>
<text transform="translate(178,79) scale(0.89,1)" fill="#FFFF00" font-size="12" text-anchor="end" font-weight="normal" >UV-I</text>
<text transform="translate(655,95) scale(0.89,1)" fill="#8080FF" font-size="12" text-anchor="start" font-weight="normal" >100</text>
<text transform="translate(655,136) scale(0.89,1)" fill="#8080FF" font-size="12" text-anchor="start" font-weight="normal" >90</text>
<text transform="translate(655,177) scale(0.89,1)" fill="#8080FF" font-size="12" text-anchor="start" font-weight="normal" >80</text>
<text transform="translate(655,218) scale(0.89,1)" fill="#8080FF" font-size="12" text-anchor="start" font-weight="normal" >70</text>
<text transform="translate(655,259) scale(0.89,1)" fill="#8080FF" font-size="12" text-anchor="start" font-weight="normal" >60</text>
<text transform="translate(655,300) scale(0.89,1)" fill="#8080FF" font-size="12" text-anchor="start" font-weight="normal" >50</text>
<text transform="translate(655,341) scale(0.89,1)" fill="#8080FF" font-size="12" text-anchor="start" font-weight="normal" >40</text>
<text transform="translate(655,382) scale(0.89,1)" fill="#8080FF" font-size="12" text-anchor="start" font-weight="normal" >30</text>
<text transform="translate(655,423) scale(0.89,1)" fill="#8080FF" font-size="12" text-anchor="start" font-weight="normal" >20</text>
<text transform="translate(655,464) scale(0.89,1)" fill="#8080FF" font-size="12" text-anchor="start" font-weight="normal" >10</text>
<text transform="translate(655,505) scale(0.89,1)" fill="#8080FF" font-size="12" text-anchor="start" font-weight="normal" >0</text>
<text transform="translate(649,79) scale(0.89,1)" fill="#8080FF" font-size="12" text-anchor="start" font-weight="normal" >%</text>
<text transform="translate(692,95) scale(0.89,1)" fill="#FF0080" font-size="12" text-anchor="start" font-weight="normal" >1020</text>
<text transform="translate(692,114) scale(0.89,1)" fill="#FF0080" font-size="12" text-anchor="start" font-weight="normal" >1019</text>
<text transform="translate(692,132) scale(0.89,1)" fill="#FF0080" font-size="12" text-anchor="start" font-weight="normal" >1018</text>
<text transform="translate(692,151) scale(0.89,1)" fill="#FF0080" font-size="12" text-anchor="start" font-weight="normal" >1017</text>
<text transform="translate(692,170) scale(0.89,1)" fill="#FF0080" font-size="12" text-anchor="start" font-weight="normal" >1016</text>
<text transform="translate(692,188) scale(0.89,1)" fill="#FF0080" font-size="12" text-anchor="start" font-weight="normal" >1015</text>
<text transform="translate(692,207) scale(0.89,1)" fill="#FF0080" font-size="12" text-anchor="start" font-weight="normal" >1014</text>
<text transform="translate(692,225) scale(0.89,1)" fill="#FF0080" font-size="12" text-anchor="start" font-weight="normal" >1013</text>
<text transform="translate(692,244) scale(0.89,1)" fill="#FF0080" font-size="12" text-anchor="start" font-weight="normal" >1012</text>
<text transform="translate(692,263) scale(0.89,1)" fill="#FF0080" font-size="12" text-anchor="start" font-weight="normal" >1011</text>
<text transform="translate(692,281) scale(0.89,1)" fill="#FF0080" font-size="12" text-anchor="start" font-weight="normal" >1010</text>
<text transform="translate(692,300) scale(0.89,1)" fill="#FF0080" font-size="12" text-anchor="start" font-weight="normal" >1009</text>
<text transform="translate(692,319) scale(0.89,1)" fill="#FF0080" font-size="12" text-anchor="start" font-weight="normal" >1008</text>
<text transform="translate(692,337) scale(0.89,1)" fill="#FF0080" font-size="12" text-anchor="start" font-weight="normal" >1007</text>
<text transform="translate(692,356) scale(0.89,1)" fill="#FF0080" font-size="12" text-anchor="start" font-weight="normal" >1006</text>
<text transform="translate(692,375) scale(0.89,1)" fill="#FF0080" font-size="12" text-anchor="start" font-weight="normal" >1005</text>
<text transform="translate(692,393) scale(0.89,1)" fill="#FF0080" font-size="12" text-anchor="start" font-weight="normal" >1004</text>
<text transform="translate(692,412) scale(0.89,1)" fill="#FF0080" font-size="12" text-anchor="start" font-weight="normal" >1003</text>
<text transform="translate(692,430) scale(0.89,1)" fill="#FF0080" font-size="12" text-anchor="start" font-weight="normal" >1002</text>
<text transform="translate(692,449) scale(0.89,1)" fill="#FF0080" font-size="12" text-anchor="start" font-weight="normal" >1001</text>
<text transform="translate(692,468) scale(0.89,1)" fill="#FF0080" font-size="12" text-anchor="start" font-weight="normal" >1000</text>
<text transform="translate(692,486) scale(0.89,1)" fill="#FF0080" font-size="12" text-anchor="start" font-weight="normal" >999</text>
<text transform="translate(692,505) scale(0.89,1)" fill="#FF0080" font-size="12" text-anchor="start" font-weight="normal" >998</text>
<text transform="translate(686,79) scale(0.89,1)" fill="#FF0080" font-size="12" text-anchor="start" font-weight="normal" >hPa</text>
<text transform="translate(729,95) scale(0.89,1)" fill="#000000" font-size="12" text-anchor="start" font-weight="normal" >60.0</text>
<text transform="translate(729,129) scale(0.89,1)" fill="#000000" font-size="12" text-anchor="start" font-weight="normal" >55.0</text>
<text transform="translate(729,163) scale(0.89,1)" fill="#000000" font-size="12" text-anchor="start" font-weight="normal" >50.0</text>
<text transform="translate(729,197) scale(0.89,1)" fill="#000000" font-size="12" text-anchor="start" font-weight="normal" >45.0</text>
<text transform="translate(729,232) scale(0.89,1)" fill="#000000" font-size="12" text-anchor="start" font-weight="normal" >40.0</text>
<text transform="translate(729,266) scale(0.89,1)" fill="#000000" font-size="12" text-anchor="start" font-weight="normal" >35.0</text>
<text transform="translate(729,300) scale(0.89,1)" fill="#000000" font-size="12" text-anchor="start" font-weight="normal" >30.0</text>
<text transform="translate(729,334) scale(0.89,1)" fill="#000000" font-size="12" text-anchor="start" font-weight="normal" >25.0</text>
<text transform="translate(729,368) scale(0.89,1)" fill="#000000" font-size="12" text-anchor="start" font-weight="normal" >20.0</text>
<text transform="translate(729,403) scale(0.89,1)" fill="#000000" font-size="12" text-anchor="start" font-weight="normal" >15.0</text>
<text transform="translate(729,437) scale(0.89,1)" fill="#000000" font-size="12" text-anchor="start" font-weight="normal" >10.0</text>
<text transform="translate(729,471) scale(0.89,1)" fill="#000000" font-size="12" text-anchor="start" font-weight="normal" >5.0</text>
<text transform="translate(729,505) scale(0.89,1)" fill="#000000" font-size="12" text-anchor="start" font-weight="normal" >0.0</text>
<text transform="translate(723,79) scale(0.89,1)" fill="#000000" font-size="12" text-anchor="start" font-weight="normal" >km/h</text>
<text transform="translate(766,95) scale(0.89,1)" fill="#FF8000" font-size="12" text-anchor="start" font-weight="normal" >100</text>
<text transform="translate(766,136) scale(0.89,1)" fill="#FF8000" font-size="12" text-anchor="start" font-weight="normal" >90</text>
<text transform="translate(766,177) scale(0.89,1)" fill="#FF8000" font-size="12" text-anchor="start" font-weight="normal" >80</text>
<text transform="translate(766,218) scale(0.89,1)" fill="#FF8000" font-size="12" text-anchor="start" font-weight="normal" >70</text>
<text transform="translate(766,259) scale(0.89,1)" fill="#FF8000" font-size="12" text-anchor="start" font-weight="normal" >60</text>
<text transform="translate(766,300) scale(0.89,1)" fill="#FF8000" font-size="12" text-anchor="start" font-weight="normal" >50</text>
<text transform="translate(766,341) scale(0.89,1)" fill="#FF8000" font-size="12" text-anchor="start" font-weight="normal" >40</text>
<text transform="translate(766,382) scale(0.89,1)" fill="#FF8000" font-size="12" text-anchor="start" font-weight="normal" >30</text>
<text transform="translate(766,423) scale(0.89,1)" fill="#FF8000" font-size="12" text-anchor="start" font-weight="normal" >20</text>
<text transform="translate(766,464) scale(0.89,1)" fill="#FF8000" font-size="12" text-anchor="start" font-weight="normal" >10</text>
<text transform="translate(766,505) scale(0.89,1)" fill="#FF8000" font-size="12" text-anchor="start" font-weight="normal" >0</text>
<text transform="translate(760,79) scale(0.89,1)" fill="#FF8000" font-size="12" text-anchor="start" font-weight="normal" >min</text>
<text transform="translate(803,95) scale(0.89,1)" fill="#FFA080" font-size="12" text-anchor="start" font-weight="normal" >1000</text>
<text transform="translate(803,115) scale(0.89,1)" fill="#FFA080" font-size="12" text-anchor="start" font-weight="normal" >950</text>
<text transform="translate(803,136) scale(0.89,1)" fill="#FFA080" font-size="12" text-anchor="start" font-weight="normal" >900</text>
<text transform="translate(803,157) scale(0.89,1)" fill="#FFA080" font-size="12" text-anchor="start" font-weight="normal" >850</text>
<text transform="translate(803,177) scale(0.89,1)" fill="#FFA080" font-size="12" text-anchor="start" font-weight="normal" >800</text>
<text transform="translate(803,197) scale(0.89,1)" fill="#FFA080" font-size="12" text-anchor="start" font-weight="normal" >750</text>
<text transform="translate(803,218) scale(0.89,1)" fill="#FFA080" font-size="12" text-anchor="start" font-weight="normal" >700</text>
<text transform="translate(803,239) scale(0.89,1)" fill="#FFA080" font-size="12" text-anchor="start" font-weight="normal" >650</text>
<text transform="translate(803,259) scale(0.89,1)" fill="#FFA080" font-size="12" text-anchor="start" font-weight="normal" >600</text>
<text transform="translate(803,279) scale(0.89,1)" fill="#FFA080" font-size="12" text-anchor="start" font-weight="normal" >550</text>
<text transform="translate(803,300) scale(0.89,1)" fill="#FFA080" font-size="12" text-anchor="start" font-weight="normal" >500</text>
<text transform="translate(803,321) scale(0.89,1)" fill="#FFA080" font-size="12" text-anchor="start" font-weight="normal" >450</text>
<text transform="translate(803,341) scale(0.89,1)" fill="#FFA080" font-size="12" text-anchor="start" font-weight="normal" >400</text>
<text transform="translate(803,361) scale(0.89,1)" fill="#FFA080" font-size="12" text-anchor="start" font-weight="normal" >350</text>
<text transform="translate(803,382) scale(0.89,1)" fill="#FFA080" font-size="12" text-anchor="start" font-weight="normal" >300</text>
<text transform="translate(803,403) scale(0.89,1)" fill="#FFA080" font-size="12" text-anchor="start" font-weight="normal" >250</text>
<text transform="translate(803,423) scale(0.89,1)" fill="#FFA080" font-size="12" text-anchor="start" font-weight="normal" >200</text>
<text transform="translate(803,443) scale(0.89,1)" fill="#FFA080" font-size="12" text-anchor="start" font-weight="normal" >150</text>
<text transform="translate(803,464) scale(0.89,1)" fill="#FFA080" font-size="12" text-anchor="start" font-weight="normal" >100</text>
<text transform="translate(803,485) scale(0.89,1)" fill="#FFA080" font-size="12" text-anchor="start" font-weight="normal" >50</text>
<text transform="translate(803,505) scale(0.89,1)" fill="#FFA080" font-size="12" text-anchor="start" font-weight="normal" >0</text>
<text transform="translate(797,79) scale(0.89,1)" fill="#FFA080" font-size="12" text-anchor="start" font-weight="normal" >W/m²</text>
<text transform="translate(188.5,519) scale(0.89,1)" fill="#000" font-size="12" text-anchor="middle" font-weight="normal" >00:00</text>
<text transform="translate(226.5,519) scale(0.89,1)" fill="#000" font-size="12" text-anchor="middle" font-weight="normal" >02:00</text>
<text transform="translate(265.5,519) scale(0.89,1)" fill="#000" font-size="12" text-anchor="middle" font-weight="normal" >04:00</text>
<text transform="translate(303.5,519) scale(0.89,1)" fill="#000" font-size="12" text-anchor="middle" font-weight="normal" >06:00</text>
<text transform="translate(341.5,519) scale(0.89,1)" fill="#000" font-size="12" text-anchor="middle" font-weight="normal" >08:00</text>
<text transform="translate(380.5,519) scale(0.89,1)" fill="#000" font-size="12" text-anchor="middle" font-weight="normal" >10:00</text>
<text transform="translate(418.5,519) scale(0.89,1)" fill="#000" font-size="12" text-anchor="middle" font-weight="normal" >12:00</text>
<text transform="translate(456.5,519) scale(0.89,1)" fill="#000" font-size="12" text-anchor="middle" font-weight="normal" >14:00</text>
<text transform="translate(495.5,519) scale(0.89,1)" fill="#000" font-size="12" text-anchor="middle" font-weight="normal" >16:00</text>
<text transform="translate(533.5,519) scale(0.89,1)" fill="#000" font-size="12" text-anchor="middle" font-weight="normal" >18:00</text>
<text transform="translate(571.5,519) scale(0.89,1)" fill="#000" font-size="12" text-anchor="middle" font-weight="normal" >20:00</text>
<text transform="translate(610.5,519) scale(0.89,1)" fill="#000" font-size="12" text-anchor="middle" font-weight="normal" >22:00</text>
<text transform="translate(648.5,519) scale(0.89,1)" fill="#000" font-size="12" text-anchor="middle" font-weight="normal" >24:00</text>
<text x="9" y="552" fill="#000" font-size="12" text-anchor="start" font-weight="bold" >Sensor</text>
<text x="9" y="568" fill="#000" font-size="12" text-anchor="start" font-weight="bold" >MinWert</text>
<text x="9" y="584" fill="#000" font-size="12" text-anchor="start" font-weight="bold" >MaxWert</text>
<text x="9" y="600" fill="#000" font-size="12" text-anchor="start" font-weight="bold" >Durchschnitt</text>
<text x="9" y="616" fill="#000" font-size="12" text-anchor="start" font-weight="bold" textLength="71" lengthAdjust="spacing">23.03. 23:55</text>
<text x="95" y="552" fill="#000" font-size="12" text-anchor="start" font-weight="bold" >T- 2m aktiv</text>
<text x="199" y="552" fill="#000" font-size="12" text-anchor="end" font-weight="bold" >°C</text>
<text transform="translate(101,568) scale(0.89,1)" fill="#000" font-size="12" text-anchor="start" font-weight="normal" >06:35</text>
<text transform="translate(199,568) scale(0.89,1)" fill="#000" font-size="12" text-anchor="end" font-weight="normal" >9.8</text>
<text transform="translate(101,584) scale(0.89,1)" fill="#000" font-size="12" text-anchor="start" font-weight="normal" >12:05</text>
<text transform="translate(199,584) scale(0.89,1)" fill="#000" font-size="12" text-anchor="end" font-weight="normal" >15.7</text>
<text transform="translate(100,600) scale(0.89,1)" fill="#000" font-size="12" text-anchor="start" font-weight="normal" >(+ 5.55 )</text>
<text transform="translate(199,600) scale(0.89,1)" fill="#000" font-size="12" text-anchor="end" font-weight="normal" >12.65</text>
<text x="199" y="616" fill="#000" font-size="12" text-anchor="end" font-weight="bold" >11.6</text>
<text x="213" y="552" fill="#000" font-size="12" text-anchor="start" font-weight="bold" >F- 2m aktiv</text>
<text x="317" y="552" fill="#000" font-size="12" text-anchor="end" font-weight="bold" >%</text>
<text transform="translate(219,568) scale(0.89,1)" fill="#000" font-size="12" text-anchor="start" font-weight="normal" >00:00</text>
<text transform="translate(317,568) scale(0.89,1)" fill="#000" font-size="12" text-anchor="end" font-weight="normal" >63</text>
<text transform="translate(219,584) scale(0.89,1)" fill="#000" font-size="12" text-anchor="start" font-weight="normal" >21:10</text>
<text transform="translate(317,584) scale(0.89,1)" fill="#000" font-size="12" text-anchor="end" font-weight="normal" >83</text>
<text transform="translate(317,600) scale(0.89,1)" fill="#000" font-size="12" text-anchor="end" font-weight="normal" >72</text>
<text transform="translate(215,616) scale(0.89,1)" fill="#000" font-size="12" text-anchor="start" font-weight="normal" >8.11 g/m³</text>
<text x="317" y="616" fill="#000" font-size="12" text-anchor="end" font-weight="bold" >78</text>
<text x="331" y="552" fill="#000" font-size="12" text-anchor="start" font-weight="bold" >Luftdruck</text>
<text x="435" y="552" fill="#000" font-size="12" text-anchor="end" font-weight="bold" >hPa</text>
<text transform="translate(337,568) scale(0.89,1)" fill="#000" font-size="12" text-anchor="start" font-weight="normal" >03:10</text>
<text transform="translate(435,568) scale(0.89,1)" fill="#000" font-size="12" text-anchor="end" font-weight="normal" >998.6</text>
<text transform="translate(337,584) scale(0.89,1)" fill="#000" font-size="12" text-anchor="start" font-weight="normal" >23:45</text>
<text transform="translate(435,584) scale(0.89,1)" fill="#000" font-size="12" text-anchor="end" font-weight="normal" >1007.6</text>
<text transform="translate(331,600) scale(0.89,1)" fill="#000" font-size="12" text-anchor="start" font-weight="normal" >^1.0hPa/h</text>
<text transform="translate(435,600) scale(0.89,1)" fill="#000" font-size="12" text-anchor="end" font-weight="normal" >1003.0</text>
<text transform="translate(331,616) scale(0.89,1)" fill="#000" font-size="12" text-anchor="start" font-weight="normal" >regnerisch</text>
<text x="435" y="616" fill="#000" font-size="12" text-anchor="end" font-weight="bold" >1007.6</text>
<text x="449" y="552" fill="#000" font-size="12" text-anchor="start" font-weight="bold" >Windböen</text>
<text x="552" y="552" fill="#000" font-size="12" text-anchor="end" font-weight="bold" >km/h</text>
<text transform="translate(449,568) scale(0.89,1)" fill="#000" font-size="12" text-anchor="start" font-weight="normal" >Ø 10 min.</text>
<text transform="translate(552,568) scale(0.89,1)" fill="#000" font-size="12" text-anchor="end" font-weight="normal" >0.0</text>
<text transform="translate(455,584) scale(0.89,1)" fill="#000" font-size="12" text-anchor="start" font-weight="normal" >12:30</text>
<text transform="translate(552,584) scale(0.89,1)" fill="#000" font-size="12" text-anchor="end" font-weight="normal" >SW 14.5</text>
<text transform="translate(552,600) scale(0.89,1)" fill="#000" font-size="12" text-anchor="end" font-weight="normal" >1.4</text>
<text transform="translate(455,616) scale(0.89,1)" fill="#000" font-size="12" text-anchor="start" font-weight="normal" >0 Bft N</text>
<text x="552" y="616" fill="#000" font-size="12" text-anchor="end" font-weight="bold" >0.0</text>
<text x="567" y="552" fill="#000" font-size="12" text-anchor="start" font-weight="bold" >Regen</text>
<text x="671" y="552" fill="#000" font-size="12" text-anchor="end" font-weight="bold" >l/m²</text>
<text transform="translate(567,568) scale(0.89,1)" fill="#000" font-size="12" text-anchor="start" font-weight="normal" >0 min.</text>
<text transform="translate(573,584) scale(0.89,1)" fill="#000" font-size="12" text-anchor="start" font-weight="normal" >00:00</text>
<text transform="translate(671,584) scale(0.89,1)" fill="#000" font-size="12" text-anchor="end" font-weight="normal" >0.0</text>
<text transform="translate(567,600) scale(0.89,1)" fill="#000" font-size="12" text-anchor="start" font-weight="normal" >Gesamt:</text>
<text transform="translate(671,600) scale(0.89,1)" fill="#000" font-size="12" text-anchor="end" font-weight="normal" >0.0</text>
<text transform="translate(570,616) scale(0.89,1)" fill="#000" font-size="12" text-anchor="start" font-weight="normal" >0.0 l/m²</text>
<text x="671" y="616" fill="#000" font-size="12" text-anchor="end" font-weight="bold" >0.0</text>
<text x="685" y="552" fill="#000" font-size="12" text-anchor="start" font-weight="bold" >PMV+1:14</text>
<text transform="translate(685,568) scale(0.89,1)" fill="#000" font-size="12" text-anchor="start" font-weight="normal" >WC 11.6 °C</text>
<text transform="translate(685,584) scale(0.89,1)" fill="#000" font-size="12" text-anchor="start" font-weight="normal" >TP 7.9 °C</text>
<text transform="translate(685,600) scale(0.89,1)" fill="#000" font-size="12" text-anchor="start" font-weight="normal" >1.1hPa/3h</text>
<text transform="translate(685,616) scale(0.89,1)" fill="#000" font-size="12" text-anchor="start" font-weight="normal" >0.1hPa/1h</text>
<text transform="translate(11,530) scale(0.89,1)" fill="#000" font-size="12" text-anchor="start" font-weight="normal" >12:21</text>
<text transform="translate(277,530) scale(0.89,1)" fill="#000" font-size="12" text-anchor="start" font-weight="normal" >06:21</text>
<text transform="translate(402,530) scale(0.89,1)" fill="#000" font-size="12" text-anchor="start" font-weight="normal" >10:49</text>
<text transform="translate(514,530) scale(0.89,1)" fill="#000" font-size="12" text-anchor="start" font-weight="normal" >18:43</text></g>
</svg></body></html>
